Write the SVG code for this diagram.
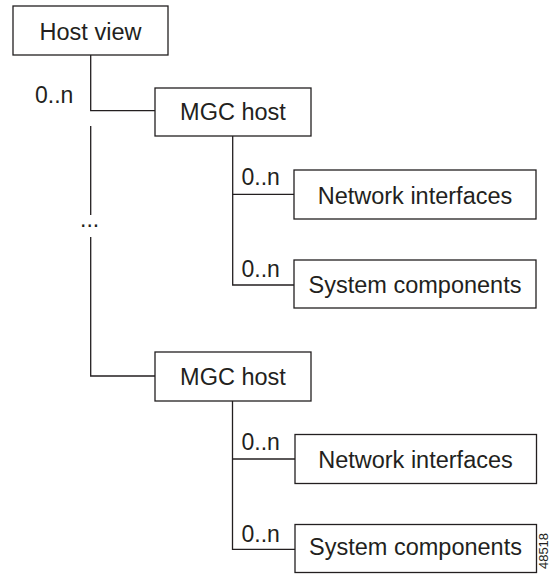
<svg xmlns="http://www.w3.org/2000/svg" width="551" height="575" viewBox="0 0 551 575">
<style>
.box{fill:#fff;stroke:#231f20;stroke-width:1.3}
.lbl{font-family:"Liberation Sans",Arial,sans-serif;font-size:23.5px;fill:#231f20;text-anchor:middle}
.card{font-family:"Liberation Sans",Arial,sans-serif;font-size:23px;fill:#231f20}
.ln{fill:none;stroke:#231f20;stroke-width:1.3}
</style>
<rect width="551" height="575" fill="#fff"/>
<g id="connectors">
<polyline class="ln" points="90.7,55 90.7,110.7 155,110.7"/>
<polyline class="ln" points="90.7,126 90.7,215"/>
<polyline class="ln" points="90.7,237 90.7,376 155,376"/>
<polyline class="ln" points="232.7,136 232.7,285 294,285"/>
<line class="ln" x1="232.7" y1="194.3" x2="294" y2="194.3"/>
<polyline class="ln" points="232.5,401 232.5,549.3 295,549.3"/>
<line class="ln" x1="232.5" y1="459" x2="295" y2="459"/>
<text class="card" x="35" y="103">0..n</text>
<text class="card" x="241.5" y="185">0..n</text>
<text class="card" x="241.5" y="277">0..n</text>
<text class="card" x="241.5" y="450">0..n</text>
<text class="card" x="241.5" y="542">0..n</text>
<text class="card" x="80" y="227">...</text>
</g>
<g id="host-view">
<rect class="box" x="13" y="6" width="155" height="49"/>
<text class="lbl" x="90.5" y="40">Host view</text>
</g>
<g id="mgc-host-1">
<rect class="box" x="155" y="88" width="156" height="48"/>
<text class="lbl" x="233" y="120">MGC host</text>
</g>
<g id="network-interfaces-1">
<rect class="box" x="294" y="170" width="242" height="49"/>
<text class="lbl" x="415" y="203.5">Network interfaces</text>
</g>
<g id="system-components-1">
<rect class="box" x="294" y="260" width="242" height="48"/>
<text class="lbl" x="415" y="293">System components</text>
</g>
<g id="mgc-host-2">
<rect class="box" x="155" y="352" width="156" height="49"/>
<text class="lbl" x="233" y="385">MGC host</text>
</g>
<g id="network-interfaces-2">
<rect class="box" x="295" y="434.5" width="241.5" height="49"/>
<text class="lbl" x="415.5" y="468.3">Network interfaces</text>
</g>
<g id="system-components-2">
<rect class="box" x="295" y="524.5" width="241.5" height="48"/>
<text class="lbl" x="415.5" y="555">System components</text>
</g>
<text transform="translate(548,551) rotate(-90)" font-family="Liberation Sans,Arial,sans-serif" font-size="13" fill="#231f20" text-anchor="middle">48518</text>
</svg>
